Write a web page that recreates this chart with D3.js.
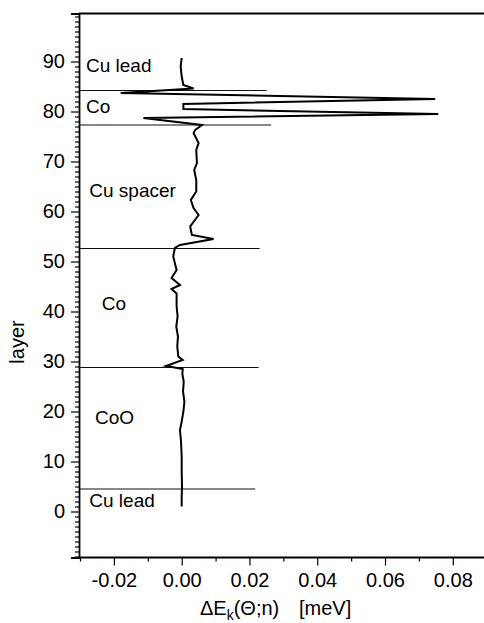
<!DOCTYPE html>
<html>
<head>
<meta charset="utf-8">
<script src="https://cdn.jsdelivr.net/npm/d3@7"></script>
<style>
  html, body { margin: 0; padding: 0; background: #fff; }
  svg { display: block; font-family: "Liberation Sans", Arial, sans-serif; }
</style>
</head>
<body>
<svg id="chart" width="484" height="623"></svg>
<script>
// Layer index n and energy contribution ΔE_k(Θ;n) in meV
const layers = [
  1, 3, 5, 8, 11, 14, 16.3, 18, 20, 22, 24, 26, 27.5, 28.5, 29.1, 30.3,
  31, 33, 35, 37, 39, 41, 43.6, 44.5, 45.3, 46.7, 48.3, 51, 52.7, 53.3,
  54.5, 55.3, 57, 59.3, 60.7, 62.3, 64, 66.3, 68.3, 69.7, 72.3, 73.7,
  75.7, 76.3, 77.3, 78.7, 79.5, 80.5, 81.5, 82.5, 83.7, 84.6, 85.3, 87, 89, 90.7
];
const deltaE = [
  0.0000, 0.0000, 0.0001, 0.0000, 0.0000, -0.0002, -0.0005, 0.0000, 0.0005, 0.0008,
  0.0004, 0.0006, 0.0002, 0.0003, -0.0046, 0.0003,
  -0.0010, -0.0013, -0.0011, -0.0016, -0.0012, -0.0015, -0.0015, -0.0030, -0.0005,
  -0.0030, -0.0015, -0.0025, -0.0020, -0.0005,
  0.0094, 0.0030, 0.0025, 0.0050, 0.0035, 0.0027, 0.0043, 0.0043, 0.0037, 0.0045,
  0.0043, 0.0050, 0.0035, 0.0040, 0.0060, -0.0113, 0.0757, 0.0005, 0.0005, 0.0748,
  -0.0180, 0.0035, 0.0005, 0.0000, -0.0003, 0.0000
];

// Interfaces between the stacked regions, and how far right each marker line runs
const interfaceLayers = [4.5, 28.8, 52.6, 77.3, 84.2];
const interfaceReach = [0.0217, 0.0227, 0.0230, 0.0264, 0.0251];

// Region names and the layer at which each name sits
const regionNames = ["Cu lead", "Co", "Cu spacer", "Co", "CoO", "Cu lead"];
const regionLayers = [89.2, 81, 64.3, 41.6, 18.9, 2.3];
const regionOffsets = [0, 0, 3.3, 15.7, 9, 3.3];

const xMajor = [-0.02, 0.00, 0.02, 0.04, 0.06, 0.08];
const xMinor = [-0.03, -0.01, 0.01, 0.03, 0.05, 0.07, 0.09];
const yMajor = [0, 10, 20, 30, 40, 50, 60, 70, 80, 90];
const yMinor = d3.range(-9, 100).filter(v => v % 10 !== 0);

const svg = d3.select("#chart");
const plotLeft = 79, plotRight = 485, plotTop = 13.5, plotBottom = 557.5;

const x = d3.scaleLinear().domain([-0.0303, 0.0895]).range([plotLeft, plotRight]);
const y = d3.scaleLinear().domain([-9.2, 99.6]).range([plotBottom, plotTop]);

const tickFont = 20, labelFont = 19, titleFont = 20;
const fontFamily = '"Liberation Sans", Arial, sans-serif';

// frame: top border
svg.append("line")
  .attr("x1", plotLeft).attr("x2", 484).attr("y1", plotTop).attr("y2", plotTop)
  .attr("stroke", "#000").attr("stroke-width", 1.8);

// bottom axis
const gx = svg.append("g").attr("transform", `translate(0,${plotBottom})`);
gx.call(d3.axisBottom(x).tickValues(xMajor).tickSize(8).tickPadding(7)
  .tickFormat(d => d.toFixed(2)));
const gxm = svg.append("g").attr("transform", `translate(0,${plotBottom})`);
gxm.call(d3.axisBottom(x).tickValues(xMinor).tickSize(4).tickFormat(""));

// left axis
const gy = svg.append("g").attr("transform", `translate(${plotLeft},0)`);
gy.call(d3.axisLeft(y).tickValues(yMajor).tickSize(8).tickPadding(6)
  .tickFormat(d3.format("d")));
const gym = svg.append("g").attr("transform", `translate(${plotLeft},0)`);
gym.call(d3.axisLeft(y).tickValues(yMinor).tickSize(4).tickFormat(""));

[gx, gxm, gy, gym].forEach(g => {
  g.select(".domain").attr("stroke", "#000").attr("stroke-width", 1.8);
  g.selectAll(".tick line").attr("stroke", "#000").attr("stroke-width", 1.2);
  g.selectAll(".tick text").attr("fill", "#000")
    .style("font-size", tickFont + "px")
    .style("font-family", fontFamily);
});
gx.select(".domain").attr("d", `M${plotLeft},0H484`);
gxm.select(".domain").remove();
gym.select(".domain").remove();

// interface marker lines
svg.append("g").selectAll("line")
  .data(interfaceLayers)
  .join("line")
  .attr("x1", plotLeft)
  .attr("x2", (d, i) => x(interfaceReach[i]))
  .attr("y1", d => y(d)).attr("y2", d => y(d))
  .attr("stroke", "#111").attr("stroke-width", 1.2);

// ΔE profile through the layers
const line = d3.line()
  .x((d, i) => x(deltaE[i]))
  .y(d => y(d));
svg.append("path")
  .attr("d", line(layers))
  .attr("fill", "none")
  .attr("stroke", "#000")
  .attr("stroke-width", 2)
  .attr("stroke-linejoin", "miter")
  .attr("stroke-miterlimit", 4);

// region names
svg.append("g").selectAll("text")
  .data(regionNames)
  .join("text")
  .attr("x", (d, i) => plotLeft + 7 + regionOffsets[i])
  .attr("y", (d, i) => y(regionLayers[i]))
  .attr("dy", "0.36em")
  .style("font-size", labelFont + "px")
  .attr("fill", "#000")
  .text(d => d);

// axis titles
svg.append("text")
  .attr("transform", `translate(24,342) rotate(-90)`)
  .attr("text-anchor", "middle")
  .style("font-size", titleFont + "px")
  .text("layer");

const xt = svg.append("text")
  .attr("x", 200).attr("y", 615)
  .style("font-size", titleFont + "px");
xt.append("tspan").text("ΔE");
xt.append("tspan").attr("dy", 5).style("font-size", "14px").text("k");
xt.append("tspan").attr("dy", -5).text("(Θ;n)");
xt.append("tspan").attr("x", 299).text("[meV]");
</script>
</body>
</html>
